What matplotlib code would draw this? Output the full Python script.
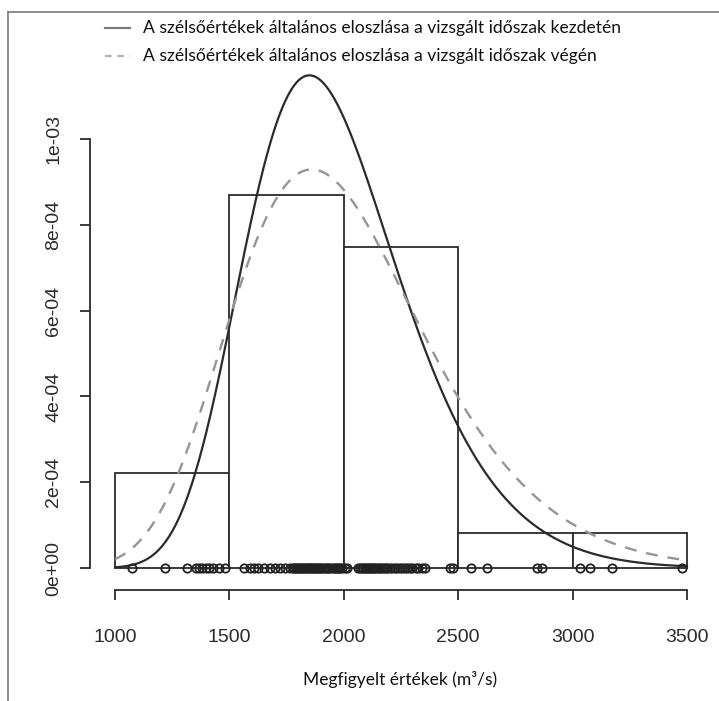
import numpy as np
import matplotlib
matplotlib.use("Agg")
import matplotlib.pyplot as plt
from matplotlib.lines import Line2D

# Histogram bin edges (m3/s)
bin_edges = [1000, 1500, 2000, 2500, 3000, 3500]

# Observed annual extremes (m3/s), shown as open circles on the baseline
observations = [
    1076, 1219, 1316, 1352, 1366, 1381, 1397, 1412, 1430, 1455, 1479,
    1562, 1589, 1606, 1623, 1650, 1677, 1699, 1719, 1741, 1763,
    1777, 1783, 1791, 1796, 1804, 1809, 1817, 1821, 1829, 1834, 1842,
    1846, 1854, 1859, 1867, 1873, 1879, 1887, 1892, 1901, 1906, 1915,
    1921, 1927, 1936, 1941, 1951, 1956, 1964, 1969, 1977, 1985, 1994,
    2004, 2013, 2064, 2071, 2079, 2085, 2092, 2099, 2105, 2112, 2118,
    2124, 2132, 2138, 2145, 2153, 2160, 2168, 2174, 2183, 2190, 2201,
    2211, 2223, 2234, 2245, 2255, 2266, 2277, 2291, 2300, 2315, 2326,
    2340, 2355, 2464, 2477,
    2555, 2625, 2843, 2865,
    3032, 3076, 3173, 3477,
]

# Fitted GEV parameters: location, scale, shape
gev_start = [1816.0, 322.0, -0.10]
gev_end = [1818.0, 398.0, -0.10]

x_ticks = [1000, 1500, 2000, 2500, 3000, 3500]
y_ticks = [0.0, 2e-4, 4e-4, 6e-4, 8e-4, 1e-3]
y_tick_labels = ["0e+00", "2e-04", "4e-04", "6e-04", "8e-04", "1e-03"]

legend_labels = [
    "A szélsőértékek általános eloszlása a vizsgált időszak kezdetén",
    "A szélsőértékek általános eloszlása a vizsgált időszak végén",
]
x_label = "Megfigyelt értékek (m³/s)"


def gev_pdf(x, loc, scale, shape):
    z = (x - loc) / scale
    s = 1.0 + shape * z
    ok = s > 0
    t = np.zeros_like(x)
    t[ok] = s[ok] ** (-1.0 / shape)
    f = np.zeros_like(x)
    f[ok] = t[ok] ** (shape + 1.0) * np.exp(-t[ok]) / scale
    return f


W, H = 719, 701
fig = plt.figure(figsize=(W / 100, H / 100), dpi=100)
fig.patch.set_facecolor("white")

# plotting region: x 1000..3500 -> px 115..687, y 0 -> px 568, 1e-3 -> px 139
px_per_y = 429.0 / 1e-3
top_px = 20
ax = fig.add_axes([115 / W, 1 - 568 / H, 572 / W, (568 - top_px) / H])
ax.set_xlim(1000, 3500)
ax.set_ylim(0, (568 - top_px) / px_per_y)

dark = "#2b2b2b"

ax.hist(observations, bins=bin_edges, density=True, histtype="bar",
        facecolor="white", edgecolor=dark, linewidth=1.3, clip_on=False)

xs = np.linspace(1000, 3500, 600)
ax.plot(xs, gev_pdf(xs, *gev_start), color=dark, lw=1.6, clip_on=False)
ax.plot(xs, gev_pdf(xs, *gev_end), color="#959595", lw=1.7,
        dashes=(5, 4.2), clip_on=False)

ax.plot(observations, np.zeros(len(observations)), linestyle="none",
        marker="o", markersize=6.0, markerfacecolor="none",
        markeredgecolor="#222222", markeredgewidth=1.3, clip_on=False, zorder=5)

# R-style detached axes
for side in ("top", "right"):
    ax.spines[side].set_visible(False)
ax.spines["left"].set_position(("outward", 25 * 72 / 100))
ax.spines["bottom"].set_position(("outward", 22 * 72 / 100))
ax.spines["left"].set_bounds(0, 1e-3)
ax.spines["bottom"].set_bounds(1000, 3500)
for side in ("left", "bottom"):
    ax.spines[side].set_color(dark)
    ax.spines[side].set_linewidth(1.3)

ax.set_xticks(x_ticks)
ax.set_xticklabels([str(v) for v in x_ticks])
ax.set_yticks(y_ticks)
ax.set_yticklabels(y_tick_labels, rotation=90, va="center")
ax.tick_params(axis="both", length=7, width=1.3, color=dark,
               labelcolor="#2a2a2a", labelsize=14)
ax.tick_params(axis="x", pad=21)
ax.tick_params(axis="y", pad=13)
for lab in ax.get_xticklabels() + ax.get_yticklabels():
    lab.set_fontfamily("Liberation Sans")

fig.text(400 / W, 1 - 680 / H, x_label, ha="center", va="center",
         fontsize=12.5, family="Lato", color="#111111")

# legend
rows = [28, 56]
styles = [dict(color="#7a7a7a", lw=1.6), dict(color="#b0b0b0", lw=1.6, dashes=(3, 2.5))]
for y, lab, st in zip(rows, legend_labels, styles):
    fig.add_artist(Line2D([105 / W, 130 / W], [1 - y / H] * 2, **st))
    fig.text(143 / W, 1 - y / H, lab, ha="left", va="center",
             fontsize=12.6, family="Lato", color="#111111")

# page frame
frame_col = "#7a7a7a"
fig.add_artist(Line2D([8 / W, 1], [1 - 12 / H] * 2, color=frame_col, lw=1.2))
fig.add_artist(Line2D([8 / W] * 2, [0, 1 - 12 / H], color=frame_col, lw=1.2))

fig.savefig("out.png", dpi=100, facecolor="white")
